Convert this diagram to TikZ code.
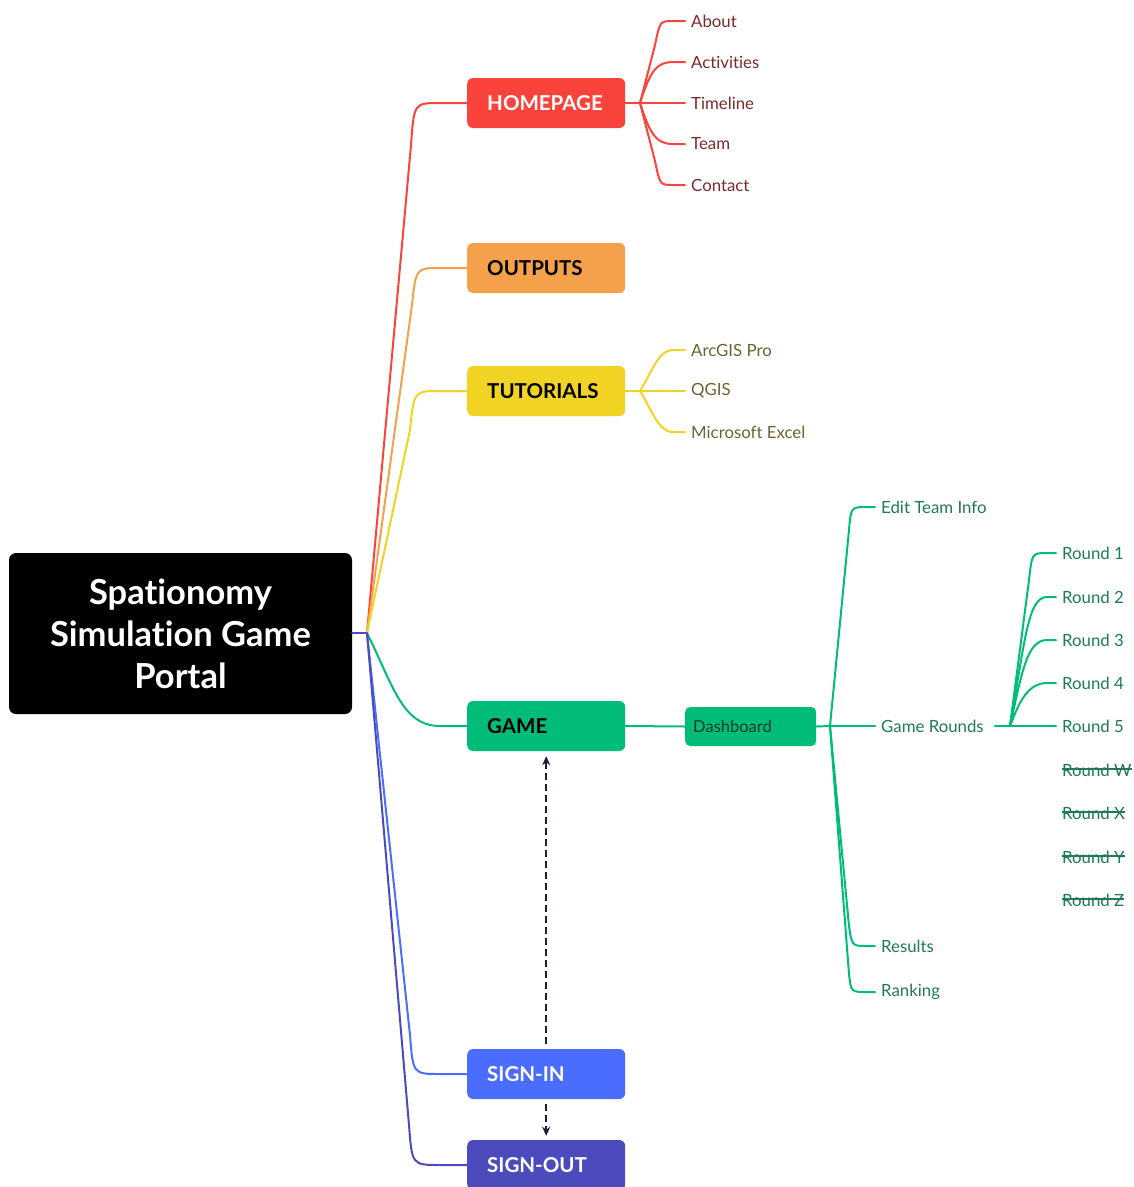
\documentclass[tikz,border=0pt]{standalone}
\usepackage{fontspec}
\setmainfont{Lato}[Ligatures=NoCommon]
\usetikzlibrary{arrows.meta}

\definecolor{cRed}{HTML}{F9433B}
\definecolor{cOrange}{HTML}{F5A04B}
\definecolor{cYellow}{HTML}{F1D324}
\definecolor{cGreen}{HTML}{00BC79}
\definecolor{cBlue}{HTML}{4A6CFF}
\definecolor{cPurple}{HTML}{4B4BBE}
\definecolor{tRed}{HTML}{7A2A2A}
\definecolor{tOlive}{HTML}{6C6330}
\definecolor{tGreen}{HTML}{1F7A55}
\definecolor{tDash}{HTML}{1A3A2C}
\definecolor{cNavy}{HTML}{1B1D3A}

\tikzset{
  branch/.style={rectangle, rounded corners=6pt, minimum height=50pt,
    text width=118pt, inner xsep=20pt, align=left, anchor=west,
    font=\fontsize{20.5}{24}\selectfont\bfseries},
  leaf/.style={anchor=west, inner xsep=6pt, inner ysep=2pt,
    font=\fontsize{16.8}{19}\selectfont},
  link/.style={line width=2pt, line cap=round, line join=round},
  struck/.style={line width=1.2pt, draw=tGreen},
  dasharrow/.style={line width=2pt, draw=cNavy, dash pattern=on 7pt off 4pt,
    -{Stealth[length=9pt,width=8pt]}}
}

\begin{document}
\begin{tikzpicture}[x=1pt,y=-1pt]
\useasboundingbox (0,0) rectangle (1134,1187);

% central topic
\node[rectangle, rounded corners=7pt, fill=black, text=white,
  minimum width=343pt, minimum height=161pt, align=center,
  font=\fontsize{34.5}{42}\selectfont\bfseries] (root) at (180.5,633.5)
  {Spationomy\\Simulation Game\\Portal};
\coordinate (hub) at (367,633);
\draw[link, cPurple] (root.east |- hub) -- (hub);

% main branches
\node[branch, fill=cRed, text=white] (home) at (467,103) {HOMEPAGE};
\node[branch, fill=cOrange, text=black] (outputs) at (467,268) {OUTPUTS};
\node[branch, fill=cYellow, text=black] (tut) at (467,391) {TUTORIALS};
\node[branch, fill=cGreen, text=black] (game) at (467,726) {GAME};
\node[branch, fill=cBlue, text=white] (signin) at (467,1074) {SIGN-IN};
\node[branch, fill=cPurple, text=white] (signout) at (467,1165) {SIGN-OUT};

\draw[link, cRed] (hub) -- (411,145) .. controls (414,103) .. (440,103) -- (home.west);
\draw[link, cOrange] (hub) -- (412,305) .. controls (416,268) .. (440,268) -- (outputs.west);
\draw[link, cYellow] (hub) -- (410,430) .. controls (414,391) .. (440,391) -- (tut.west);
\draw[link, cGreen] (hub) .. controls (393,685) and (402,726) .. (440,726) -- (game.west);
\draw[link, cBlue] (hub) -- (410,1035) .. controls (413,1074) .. (440,1074) -- (signin.west);
\draw[link, cPurple] (hub) -- (409,1125) .. controls (412,1165) .. (440,1165) -- (signout.west);

% homepage pages
\coordinate (hfork) at (640,103);
\draw[link, cRed] (home.east) -- (hfork);
\foreach \name/\txt/\yy in {about/About/21, act/Activities/62, time/Timeline/103, team/Team/144, contact/Contact/185}
  \node[leaf, text=tRed] (\name) at (685,\yy) {\txt};
\draw[link, cRed] (hfork) -- (655,45) .. controls (660,21) .. (673,21) -- (about.west);
\draw[link, cRed] (hfork) .. controls (650,72) and (656,62) .. (673,62) -- (act.west);
\draw[link, cRed] (hfork) -- (time.west);
\draw[link, cRed] (hfork) .. controls (650,134) and (656,144) .. (673,144) -- (team.west);
\draw[link, cRed] (hfork) -- (655,161) .. controls (660,185) .. (673,185) -- (contact.west);

% tutorials
\coordinate (tfork) at (640,391);
\draw[link, cYellow] (tut.east) -- (tfork);
\foreach \name/\txt/\yy in {arc/ArcGIS Pro/350, qgis/QGIS/391, excel/Microsoft Excel/432}
  \node[leaf, text=tOlive] (\name) at (685,\yy) {\txt};
\draw[link, cYellow] (tfork) .. controls (652,372) and (658,350) .. (673,350) -- (arc.west);
\draw[link, cYellow] (tfork) -- (qgis.west);
\draw[link, cYellow] (tfork) .. controls (652,410) and (658,432) .. (673,432) -- (excel.west);

% game dashboard
\node[rectangle, rounded corners=5pt, fill=cGreen, text=tDash, anchor=west,
  minimum height=39pt, text width=115pt, inner xsep=8pt, align=left,
  font=\fontsize{16.5}{19}\selectfont] (dash) at (685,726.5) {Dashboard};
\draw[link, cGreen] (game.east) -- (dash.west);

\coordinate (dfork) at (830,726);
\draw[link, cGreen] (dash.east) -- (dfork);
\node[leaf, text=tGreen] (edit) at (875,507) {Edit Team Info};
\node[leaf, text=tGreen] (rounds) at (875,726) {Game Rounds};
\node[leaf, text=tGreen] (results) at (875,946) {Results};
\node[leaf, text=tGreen] (ranking) at (875,992) {Ranking};
\draw[link, cGreen] (dfork) -- (849,530) .. controls (851,507) .. (867,507) -- (edit.west);
\draw[link, cGreen] (dfork) -- (rounds.west);
\draw[link, cGreen] (dfork) -- (849,926) .. controls (852,946) .. (867,946) -- (results.west);
\draw[link, cGreen] (dfork) -- (849,974) .. controls (851,992) .. (867,992) -- (ranking.west);

% game rounds
\coordinate (rfork) at (1010,726);
\draw[link, cGreen] ([xshift=5pt]rounds.east) -- (rfork);
\foreach \name/\txt/\yy in {ra/Round 1/553, rb/Round 2/597, rc/Round 3/640, rd/Round 4/683, re/Round 5/726}
  \node[leaf, text=tGreen] (\name) at (1056,\yy) {\txt};
\draw[link, cGreen] (rfork) -- (1029,580) .. controls (1032,553) .. (1047,553) -- (ra.west);
\draw[link, cGreen] (rfork) .. controls (1025,640) and (1028,597) .. (1047,597) -- (rb.west);
\draw[link, cGreen] (rfork) .. controls (1022,672) and (1027,640) .. (1047,640) -- (rc.west);
\draw[link, cGreen] (rfork) .. controls (1018,706) and (1026,683) .. (1047,683) -- (rd.west);
\draw[link, cGreen] (rfork) -- (re.west);

% dropped rounds
\foreach \name/\txt/\yy in {rw/Round W/770, rx/Round X/813, ry/Round Y/857, rz/Round Z/900} {
  \node[leaf, text=tGreen] (\name) at (1056,\yy) {\txt};
  \draw[struck] ([xshift=6pt,yshift=1pt]\name.west) -- ([xshift=-6pt,yshift=1pt]\name.east);
}

% session flow
\draw[dasharrow, shorten <=5pt, shorten >=5pt] (signin.north) -- (game.south);
\draw[dasharrow, shorten <=5pt, shorten >=4pt] (signin.south) -- (signout.north);

\end{tikzpicture}
\end{document}
